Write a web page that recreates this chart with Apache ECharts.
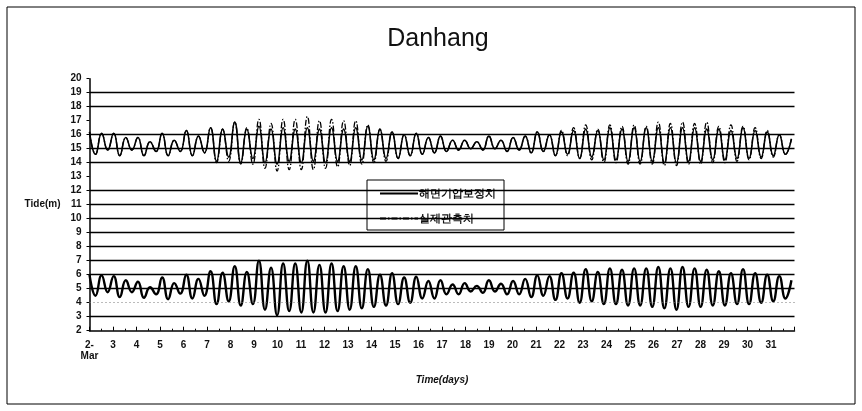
<!DOCTYPE html>
<html>
<head>
<meta charset="utf-8">
<script src="https://cdn.jsdelivr.net/npm/echarts@6/dist/echarts.min.js"></script>
<style>
html,body{margin:0;padding:0;background:#fff;}
#chart{width:862px;height:411px;}
</style>
</head>
<body>
<div id="chart"></div>
<script>
// ---- data ----
const startDay = 2;            // 2-Mar
const halfCycleDays = 0.2575;  // time between successive high / low water
const dayTicks = [2,3,4,5,6,7,8,9,10,11,12,13,14,15,16,17,18,19,20,21,22,23,24,25,26,27,28,29,30,31];
const gridLevels = [19,18,16,15,14,12,11,10,9,8,7,6,5,3];
const dottedLevels = [4];
const seriesNames = ['해면기압보정치', '실제관측치'];

// lower band: high / low waters (m)
const lowerHighs = [6.0,5.95,5.9,5.6,5.5,5.1,5.8,5.4,6.0,5.7,
  6.25,6.15,6.6,6.2,7.0,6.5,6.8,6.8,7.0,6.7,
  6.8,6.6,6.6,6.4,6.0,6.1,5.8,5.85,5.55,5.6,
  5.3,5.4,5.2,5.6,5.35,5.55,5.7,5.95,5.9,6.1,
  6.15,6.4,6.2,6.45,6.35,6.45,6.45,6.55,6.45,6.55,
  6.45,6.35,6.25,6.1,6.4,6.1,6.0,5.9,5.6];
const lowerLows = [4.5,4.75,4.4,4.75,4.35,4.6,4.25,4.65,4.3,4.5,
  3.9,4.1,3.8,3.9,3.5,3.1,3.4,3.3,3.3,3.3,
  3.4,3.5,3.6,3.7,3.8,3.9,4.0,4.3,4.3,4.6,
  4.6,4.8,4.7,4.8,4.6,4.6,4.4,4.5,4.2,4.3,
  4.0,4.1,3.9,3.9,3.8,3.8,3.7,3.6,3.5,3.7,
  3.7,3.8,3.8,3.9,3.9,4.0,4.1,4.3];

// upper band, solid (해면기압보정치)
const upperSolidHighs = [16.2,16.1,16.1,15.8,15.8,15.5,16.1,15.6,16.3,15.9,
  16.5,16.4,16.9,16.4,16.6,16.4,16.5,16.4,16.5,16.4,
  16.5,16.4,16.5,16.6,16.4,16.2,16.0,16.1,15.8,15.9,
  15.6,15.6,15.5,15.9,15.6,15.8,15.9,16.2,16.0,16.2,
  16.3,16.4,16.3,16.5,16.4,16.5,16.5,16.5,16.5,16.5,
  16.5,16.4,16.4,16.3,16.5,16.3,16.2,16.0,15.7];
const upperSolidLows = [14.6,14.9,14.5,14.9,14.5,14.8,14.5,14.8,14.5,14.7,
  14.1,14.4,14.0,14.3,14.0,13.9,14.1,14.0,14.1,14.0,
  14.1,14.1,14.2,14.2,14.3,14.3,14.5,14.6,14.7,14.8,
  14.9,15.0,14.9,15.0,14.8,14.9,14.7,14.8,14.5,14.6,
  14.3,14.4,14.2,14.2,14.1,14.1,14.1,14.0,14.0,14.1,
  14.1,14.2,14.2,14.3,14.3,14.4,14.5,14.6];

// upper band, dash-dot (실제관측치)
const upperDashHighs = [16.2,16.1,16.1,15.8,15.8,15.5,16.1,15.6,16.3,15.9,
  16.5,16.4,16.9,16.5,17.1,16.8,17.1,17.1,17.3,17.0,
  17.1,17.0,17.0,16.7,16.4,16.2,16.0,16.1,15.8,15.9,
  15.6,15.6,15.5,15.9,15.6,15.8,15.9,16.2,16.0,16.3,
  16.5,16.7,16.4,16.7,16.6,16.7,16.6,16.9,16.8,16.9,
  16.8,16.9,16.6,16.7,16.6,16.5,16.3,16.0,15.7];
const upperDashLows = [14.6,14.9,14.5,14.9,14.5,14.8,14.5,14.8,14.5,14.7,
  14.0,14.1,13.9,13.9,13.6,13.4,13.5,13.5,13.5,13.6,
  13.7,13.8,13.9,14.0,14.1,14.3,14.5,14.6,14.7,14.8,
  14.9,15.0,14.9,15.0,14.8,14.9,14.7,14.8,14.5,14.5,
  14.3,14.2,14.0,14.0,13.9,13.9,13.9,13.8,13.8,13.9,
  13.9,14.0,14.0,14.1,14.2,14.3,14.4,14.6];

// ---- build [time, value] pairs alternating high / low water ----
function build(highs, lows) {
  const out = [];
  const n = highs.length + lows.length;
  for (let k = 0; k < n; k++) {
    const v = (k % 2 === 0) ? highs[k / 2] : lows[(k - 1) / 2];
    out.push([startDay + k * halfCycleDays, v]);
  }
  return out;
}

const chart = echarts.init(document.getElementById('chart'), null, {renderer: 'canvas'});
const font = 'Liberation Sans, Arial, sans-serif';

const markData = gridLevels.map(v => ({yAxis: v}))
  .concat(dottedLevels.map(v => ({yAxis: v, lineStyle: {type: [1, 3], color: '#777', width: 1}})));

chart.setOption({
  animation: false,
  backgroundColor: '#fff',
  title: {
    text: 'Danhang',
    left: 433, top: 22, textAlign: 'center',
    textStyle: {fontFamily: font, fontSize: 25, fontWeight: 'normal', color: '#111'}
  },
  legend: {
    data: seriesNames,
    orient: 'vertical',
    left: 367, top: 180,
    width: 143,
    padding: [8, 8, 6, 12],
    itemWidth: 38, itemHeight: 10, itemGap: 14,
    backgroundColor: '#fff',
    borderColor: '#000', borderWidth: 1,
    itemStyle: {opacity: 0},
    textStyle: {fontFamily: font, fontSize: 11, fontWeight: 'bold', color: '#111', padding: [0, 0, 0, -4]}
  },
  grid: {left: 89.5, right: 67.5, top: 78.7, bottom: 80.3, containLabel: false},
  xAxis: {
    type: 'value', min: 2, max: 32, interval: 1,
    name: 'Time(days)', nameLocation: 'middle', nameGap: 45,
    nameTextStyle: {fontFamily: font, fontSize: 10, fontWeight: 'bold', fontStyle: 'italic', color: '#111'},
    axisLine: {lineStyle: {color: '#000', width: 1.5}},
    axisTick: {inside: true, length: 4, lineStyle: {color: '#000'}},
    minorTick: {show: true, splitNumber: 2, length: 2, lineStyle: {color: '#000'}},
    splitLine: {show: false},
    axisLabel: {
      fontFamily: font, fontSize: 10, fontWeight: 'bold', color: '#111', margin: 9, lineHeight: 11,
      formatter: function (v) {
        if (dayTicks.indexOf(v) < 0) return '';
        return v === dayTicks[0] ? v + '-\nMar' : String(v);
      }
    }
  },
  yAxis: {
    type: 'value', min: 2, max: 20, interval: 1,
    name: 'Tide(m)', nameLocation: 'middle', nameRotate: 0, nameGap: 29,
    nameTextStyle: {fontFamily: font, fontSize: 10, fontWeight: 'bold', color: '#111'},
    axisLine: {show: true, lineStyle: {color: '#000', width: 1.5}},
    axisTick: {show: true, length: 3, lineStyle: {color: '#000'}},
    splitLine: {show: false},
    axisLabel: {fontFamily: font, fontSize: 10, fontWeight: 'bold', color: '#111', margin: 8}
  },
  graphic: [{
    type: 'rect', shape: {x: 7, y: 7, width: 848, height: 397},
    style: {fill: 'none', stroke: '#000', lineWidth: 1}, silent: true, z: -1
  }],
  series: [
    {
      name: 'lower', type: 'line', showSymbol: false, symbol: 'none', smooth: 0.5,
      data: build(lowerHighs, lowerLows),
      lineStyle: {color: '#000', width: 2.4},
      markLine: {
        silent: true, symbol: 'none', label: {show: false},
        lineStyle: {color: '#000', width: 1.4, type: 'solid'},
        data: markData
      },
      z: 3
    },
    {
      name: seriesNames[1], type: 'line', showSymbol: false, symbol: 'none', smooth: 0.5,
      data: build(upperDashHighs, upperDashLows),
      lineStyle: {color: '#000', width: 1.3, type: [6, 2, 1.5, 2]},
      itemStyle: {color: '#000'},
      z: 3
    },
    {
      name: seriesNames[0], type: 'line', showSymbol: false, symbol: 'none', smooth: 0.5,
      data: build(upperSolidHighs, upperSolidLows),
      lineStyle: {color: '#000', width: 1.6},
      itemStyle: {color: '#000'},
      z: 4
    }
  ]
});
</script>
</body>
</html>
